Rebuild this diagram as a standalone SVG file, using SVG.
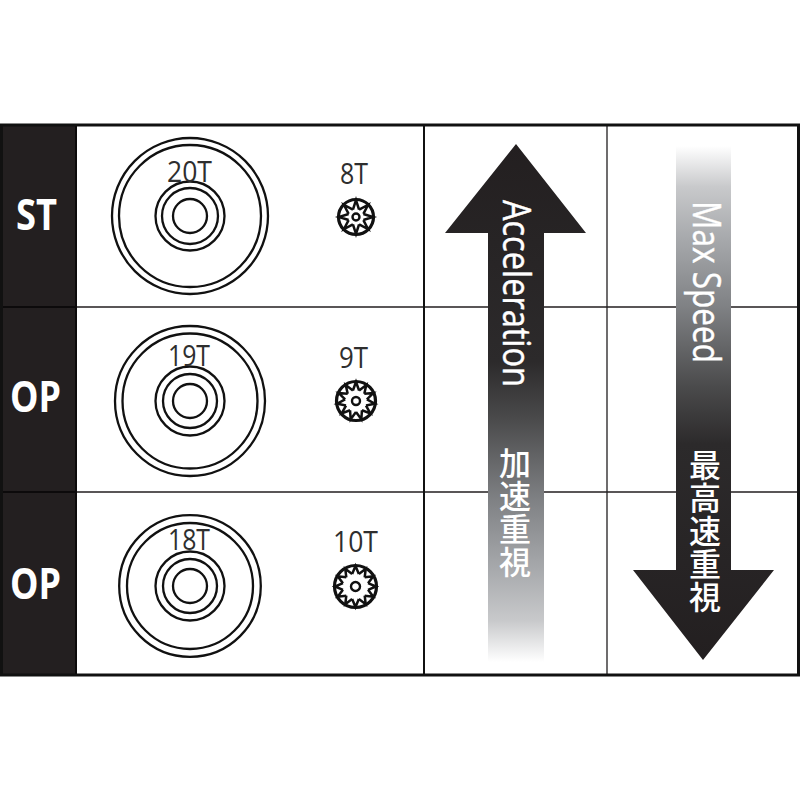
<svg xmlns="http://www.w3.org/2000/svg" xmlns:xlink="http://www.w3.org/1999/xlink" width="800" height="800" viewBox="0 0 800 800">
<style>
.ring{fill:none;stroke:#111;stroke-width:2.3}
.rim{fill:none;stroke:#111;stroke-width:3.2}
.hub{fill:none;stroke:#111;stroke-width:2.4}
.tooth{fill:none;stroke:#111;stroke-width:2.5;stroke-linejoin:miter}
.grid{stroke:#231f20;stroke-width:1.3;fill:none}
.lab{font-family:"Open Sans",sans-serif;font-size:30px;fill:#2e2e2e}
.side{font-family:"Open Sans",sans-serif;font-size:43px;font-weight:700;fill:#fff}
.en{font-family:"Open Sans",sans-serif;font-size:38px;fill:#fff;stroke:#fff;stroke-width:0.4}
.cjk{font-family:"Noto Sans CJK JP",sans-serif;font-size:32px;font-weight:500;fill:#fff;writing-mode:vertical-rl;letter-spacing:1px}
</style>
<defs>
<linearGradient id="gUp" x1="0" y1="0" x2="0" y2="1"><stop offset="0" stop-color="#231f20"/><stop offset="0.42" stop-color="#2c2a2b"/><stop offset="0.53" stop-color="#4a4a4b"/><stop offset="0.69" stop-color="#808285"/><stop offset="0.82" stop-color="#a7a9ac"/><stop offset="0.92" stop-color="#c8c9cb"/><stop offset="1" stop-color="#fff"/></linearGradient>
<linearGradient id="gDown" x1="0" y1="1" x2="0" y2="0"><stop offset="0" stop-color="#231f20"/><stop offset="0.42" stop-color="#2c2a2b"/><stop offset="0.53" stop-color="#4a4a4b"/><stop offset="0.69" stop-color="#808285"/><stop offset="0.82" stop-color="#a7a9ac"/><stop offset="0.92" stop-color="#c8c9cb"/><stop offset="1" stop-color="#fff"/></linearGradient>
<path id="t8" class="tooth" d="M-3.060-7.390L0-17L3.060-7.390"/>
<path id="t9" class="tooth" d="M-3.100-10.550L0-19L3.100-10.550"/>
<path id="t10" class="tooth" d="M-3.360-12.560L0-20.500L3.360-12.560"/>
</defs>
<rect width="800" height="800" fill="#fff"/>
<g id="table">
<rect x="1" y="125" width="75" height="550" fill="#231f20"/>
<path class="grid" d="M76 307H800M76 492H800M607 125V675"/>
<path d="M424 125V675" fill="none" stroke="#111" stroke-width="2"/>
<path d="M1 307H76M1 492H76M76 125V675" fill="none" stroke="#0c0a0b" stroke-width="2"/>
<rect x="1.500" y="125" width="797" height="550" fill="none" stroke="#111" stroke-width="3"/>
</g>
<g id="row-st"><text class="side" x="16" y="230" textLength="41" lengthAdjust="spacingAndGlyphs">ST</text></g>
<g id="row-op1"><text class="side" x="10" y="412" textLength="51" lengthAdjust="spacingAndGlyphs">OP</text></g>
<g id="row-op2"><text class="side" x="10" y="599" textLength="51" lengthAdjust="spacingAndGlyphs">OP</text></g>
<g id="gear-20T"><circle class="ring" cx="190" cy="216" r="78"/><circle class="ring" cx="190" cy="216" r="71"/><circle class="ring" cx="190" cy="216" r="34.500"/><circle class="ring" cx="190" cy="216" r="28"/><circle class="ring" cx="190" cy="216" r="17"/><text class="lab" x="167" y="182" textLength="45" lengthAdjust="spacingAndGlyphs">20T</text></g>
<g id="gear-19T"><circle class="ring" cx="190" cy="401" r="75"/><circle class="ring" cx="190" cy="401" r="67.500"/><circle class="ring" cx="190" cy="401" r="34.500"/><circle class="ring" cx="190" cy="401" r="27"/><circle class="ring" cx="190" cy="401" r="17"/><text class="lab" x="168" y="366" textLength="42" lengthAdjust="spacingAndGlyphs">19T</text></g>
<g id="gear-18T"><circle class="ring" cx="190" cy="586" r="70.800"/><circle class="ring" cx="190" cy="586" r="63"/><circle class="ring" cx="190" cy="586" r="34.500"/><circle class="ring" cx="190" cy="586" r="27"/><circle class="ring" cx="190" cy="586" r="17"/><text class="lab" x="168" y="550" textLength="42" lengthAdjust="spacingAndGlyphs">18T</text></g>
<g id="gear-8T"><text class="lab" x="340" y="184" textLength="28" lengthAdjust="spacingAndGlyphs">8T</text>
<g transform="translate(356 217)"><circle class="rim" r="17.500"/><circle class="hub" r="3.500"/><use href="#t8"/><use href="#t8" transform="rotate(45)"/><use href="#t8" transform="rotate(90)"/><use href="#t8" transform="rotate(135)"/><use href="#t8" transform="rotate(180)"/><use href="#t8" transform="rotate(225)"/><use href="#t8" transform="rotate(270)"/><use href="#t8" transform="rotate(315)"/></g></g>
<g id="gear-9T"><text class="lab" x="339" y="368" textLength="29" lengthAdjust="spacingAndGlyphs">9T</text>
<g transform="translate(356 401)"><circle class="rim" r="19.500"/><circle class="hub" r="4"/><use href="#t9"/><use href="#t9" transform="rotate(32.730)"/><use href="#t9" transform="rotate(65.450)"/><use href="#t9" transform="rotate(98.180)"/><use href="#t9" transform="rotate(130.910)"/><use href="#t9" transform="rotate(163.640)"/><use href="#t9" transform="rotate(196.360)"/><use href="#t9" transform="rotate(229.090)"/><use href="#t9" transform="rotate(261.820)"/><use href="#t9" transform="rotate(294.550)"/><use href="#t9" transform="rotate(327.270)"/></g></g>
<g id="gear-10T"><text class="lab" x="333" y="552" textLength="45" lengthAdjust="spacingAndGlyphs">10T</text>
<g transform="translate(355.500 586.500)"><circle class="rim" r="21"/><circle class="hub" r="4.500"/><use href="#t10"/><use href="#t10" transform="rotate(30)"/><use href="#t10" transform="rotate(60)"/><use href="#t10" transform="rotate(90)"/><use href="#t10" transform="rotate(120)"/><use href="#t10" transform="rotate(150)"/><use href="#t10" transform="rotate(180)"/><use href="#t10" transform="rotate(210)"/><use href="#t10" transform="rotate(240)"/><use href="#t10" transform="rotate(270)"/><use href="#t10" transform="rotate(300)"/><use href="#t10" transform="rotate(330)"/></g></g>
<g id="arrow-acceleration">
<path d="M516 144L586 233H544V662H488V233H445Z" fill="url(#gUp)"/>
<text class="en" transform="translate(503 200) rotate(90)" textLength="187" lengthAdjust="spacingAndGlyphs">Acceleration</text>
<text class="cjk" x="515" y="447">加速重視</text>
</g>
<g id="arrow-max-speed">
<path d="M676 146H731V570H774L703 660L633 570H676Z" fill="url(#gDown)"/>
<text class="en" transform="translate(693 201) rotate(90)" textLength="162" lengthAdjust="spacingAndGlyphs">Max Speed</text>
<text class="cjk" x="705" y="449">最高速重視</text>
</g>
</svg>
